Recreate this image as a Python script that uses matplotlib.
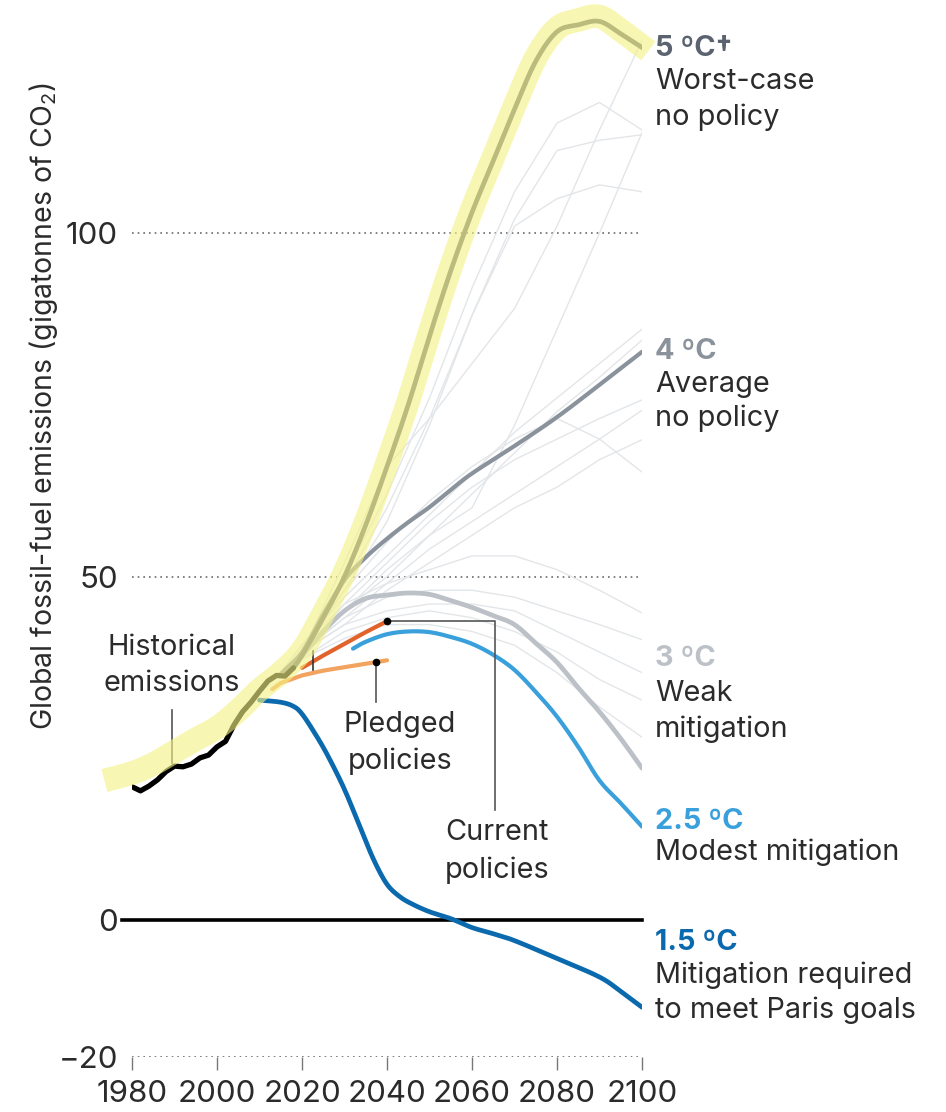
import numpy as np
import matplotlib
matplotlib.use("Agg")
import matplotlib.pyplot as plt

plt.rcParams['font.family'] = ['Inter', 'DejaVu Sans']
plt.rcParams['mathtext.fontset'] = 'custom'
plt.rcParams['mathtext.rm'] = 'Inter'
plt.rcParams['mathtext.default'] = 'regular'

# ---------------------------------------------------------------- data
hist_years = [1980, 1982, 1984, 1986, 1988, 1990, 1992, 1994, 1996, 1998,
              2000, 2002, 2004, 2006, 2008, 2010, 2012, 2014, 2016, 2018]
hist_vals = [19.4, 18.8, 19.5, 20.4, 21.6, 22.4, 22.3, 22.7, 23.6, 24.0,
             25.2, 26.0, 28.4, 30.3, 31.7, 33.3, 34.8, 35.6, 35.5, 36.7]

# Worst-case no policy (5 ºC)
worst_years = [2018, 2020, 2025, 2030, 2035, 2040, 2045, 2050, 2055, 2060,
               2065, 2070, 2075, 2080, 2085, 2090, 2095, 2100]
worst_vals = [36.7, 38.5, 44.0, 50.0, 57.5, 66.0, 75.0, 85.0, 94.5, 103.0,
              110.5, 118.0, 125.0, 129.3, 130.3, 130.8, 129.0, 127.0]

# Average no policy (4 ºC)
avg_years = [2015, 2020, 2025, 2030, 2035, 2040, 2045, 2050, 2055, 2060,
             2070, 2080, 2090, 2100]
avg_vals = [35.8, 39.0, 44.5, 49.5, 52.8, 55.5, 57.9, 60.1, 62.6, 65.0,
            69.0, 73.2, 77.9, 82.7]

# Weak mitigation (3 ºC)
weak_years = [2015, 2020, 2025, 2030, 2035, 2040, 2045, 2050, 2055, 2060,
              2065, 2070, 2075, 2080, 2085, 2090, 2095, 2100]
weak_vals = [35.8, 38.5, 42.0, 45.0, 46.8, 47.3, 47.6, 47.4, 46.5, 45.5,
             44.3, 43.0, 40.3, 37.5, 33.8, 30.3, 26.4, 22.1]

# Modest mitigation (2.5 ºC)
modest_years = [2032, 2035, 2040, 2045, 2050, 2055, 2060, 2065, 2070, 2075,
                2080, 2085, 2090, 2095, 2100]
modest_vals = [39.5, 40.5, 41.6, 42.0, 41.9, 41.2, 40.2, 38.6, 36.4, 33.2,
               29.6, 25.2, 20.3, 17.0, 13.6]

# Mitigation required to meet Paris goals (1.5 ºC)
paris_years = [2010, 2015, 2018, 2020, 2023, 2026, 2030, 2034, 2037, 2040,
               2043, 2046, 2050, 2055, 2060, 2065, 2070, 2080, 2090,
               2095, 2100]
paris_vals = [32.0, 31.7, 31.1, 30.0, 27.2, 24.0, 19.0, 13.0, 8.6, 5.2,
              3.4, 2.3, 1.2, 0.2, -1.1, -2.0, -3.0, -5.6, -8.3,
              -10.4, -12.7]

# Policy pathways
current_years = [2020, 2025, 2030, 2035, 2040]
current_vals = [36.7, 38.5, 40.2, 41.9, 43.5]
pledged_years = [2013, 2015, 2020, 2025, 2030, 2035, 2040]
pledged_vals = [33.6, 34.5, 35.6, 36.3, 36.8, 37.3, 37.8]

# Individual model scenarios (background ensemble)
ens_years = [2015, 2020, 2030, 2040, 2050, 2060, 2070, 2080, 2090, 2100]
ens_runs = [
    [36, 39, 52, 66, 73, 81, 89, 101, 115, 128],
    [36, 39, 50, 62, 76, 92, 106, 116, 119, 115],
    [36, 39, 49, 60, 73, 88, 102, 112, 113.5, 114.3],
    [36, 39, 48, 58, 72, 88, 101, 105, 107, 106],
    [36, 39, 45, 51, 56, 60, 72, 86, 100, 114.6],
    [36, 40, 47, 53, 59, 65, 71, 76, 81, 86],
    [36, 39, 45, 50, 56, 62, 68, 74, 79, 84.4],
    [36, 39, 46, 52, 58, 63, 67, 70, 73, 75.7],
    [36, 39, 44, 49, 54, 58, 62, 66, 70, 74.2],
    [36, 39, 43, 48, 52, 56, 60, 63, 67, 69.9],
    [36, 40, 48, 55, 61, 66, 70, 73, 70, 65.2],
    [36, 40, 46, 49, 51, 53, 53, 51, 48, 44.7],
    [36, 39, 44, 47, 48, 48, 47, 45, 43, 40.8],
    [36, 39, 43, 45, 46, 46, 45, 42, 39, 36],
    [36, 38, 42, 44, 45, 44, 42, 39, 35, 32],
    [36, 38, 41, 43, 43, 42, 40, 36, 31, 26.6],
]

# Highlighter stroke over the historical and worst-case path
marker_years = [1973.5, 1980, 1985, 1990, 1995, 2000, 2005, 2010, 2015, 2020,
                2025, 2030, 2035, 2040, 2045, 2050, 2055, 2060, 2065, 2070,
                2075, 2080, 2085, 2090, 2095, 2101.5]
marker_vals = [20.3, 21.4, 22.7, 24.5, 26.3, 28.0, 30.5, 33.5, 36.0, 39.2,
               44.6, 50.6, 58.0, 66.5, 75.5, 85.5, 95.0, 103.5, 111.0, 118.5,
               125.5, 129.8, 131.0, 131.5, 129.5, 126.5]

x_ticks = [1980, 2000, 2020, 2040, 2060, 2080, 2100]
y_ticks = [-20, 0, 50, 100]
y_tick_labels = ["\u221220", "0", "50", "100"]


def smooth(xs, ys, n=12):
    """Catmull-Rom curve through the given points."""
    x = np.asarray(xs, float)
    y = np.asarray(ys, float)
    px = np.concatenate([[2 * x[0] - x[1]], x, [2 * x[-1] - x[-2]]])
    py = np.concatenate([[2 * y[0] - y[1]], y, [2 * y[-1] - y[-2]]])
    out_x, out_y = [], []
    t = np.linspace(0, 1, n, endpoint=False)
    for i in range(1, len(px) - 2):
        for arr, out in ((px, out_x), (py, out_y)):
            p0, p1, p2, p3 = arr[i - 1], arr[i], arr[i + 1], arr[i + 2]
            out.extend(0.5 * ((2 * p1) + (-p0 + p2) * t
                              + (2 * p0 - 5 * p1 + 4 * p2 - p3) * t ** 2
                              + (-p0 + 3 * p1 - 3 * p2 + p3) * t ** 3))
    out_x.append(x[-1])
    out_y.append(y[-1])
    return np.array(out_x), np.array(out_y)


# ---------------------------------------------------------------- figure
W, H = 946, 1112
fig = plt.figure(figsize=(W / 100, H / 100), dpi=100)
ax = fig.add_axes([132 / W, (H - 1057.4) / H, 510 / W, 1051.1 / H])
ax.set_xlim(1980, 2100)
ax.set_ylim(-20, 133)
for s in ax.spines.values():
    s.set_visible(False)

# reference lines
for yv in (-20, 50, 100):
    ax.axhline(yv, color='#6b6b6b', lw=1.2, ls=(0, (1, 2.4)), zorder=1)
ax.axhline(0, xmin=-0.02, xmax=1, color='black', lw=2.6, zorder=2,
           clip_on=False)

# background ensemble
for run in ens_runs:
    ax.plot(ens_years, run, color='#e3e6e9', lw=1.0, zorder=2)

LW = 3.4
rc = dict(solid_capstyle='round', solid_joinstyle='round')
ax.plot(*smooth(weak_years, weak_vals), color='#bcc1c8', lw=LW, zorder=3, **rc)
ax.plot(*smooth(avg_years, avg_vals), color='#8a929c', lw=3.0, zorder=3, **rc)
ax.plot(*smooth(worst_years, worst_vals), color='#5b6371', lw=LW, zorder=3,
        **rc)
ax.plot(*smooth(modest_years, modest_vals), color='#3aa0dc', lw=3.0,
        zorder=4, **rc)
ax.plot(*smooth(paris_years, paris_vals), color='#0b6aad', lw=LW, zorder=4,
        **rc)
ax.plot(pledged_years, pledged_vals, color='#f2a35f', lw=3.0, zorder=5, **rc)
ax.plot(current_years, current_vals, color='#e2622b', lw=3.0, zorder=5, **rc)
ax.plot(hist_years, hist_vals, color='black', lw=LW + 0.4, zorder=6, **rc)

# highlighter
ax.plot(*smooth(marker_years, marker_vals), color='#f5f285', alpha=0.62,
        lw=17, solid_capstyle='butt', solid_joinstyle='round', zorder=9,
        clip_on=False)

# ---------------------------------------------------------------- annotations
lead = dict(color='#555555', lw=1.2, zorder=7)
body = '#2b2b2b'
FS = 20.8

# Historical emissions
ax.plot([1989.5, 1989.5], [22.9, 30.6], **lead)
ax.text(1989.4, 39.6, "Historical", ha='center', va='center', fontsize=FS,
        color=body)
ax.text(1989.4, 34.4, "emissions", ha='center', va='center', fontsize=FS,
        color=body)

# Pledged policies
p_year = 2037.5
p_val = np.interp(p_year, pledged_years, pledged_vals)
ax.plot([p_year, p_year], [31.7, p_val], **lead)
ax.plot([p_year], [p_val], 'o', color='black', ms=4.5, zorder=8)
ax.text(2043, 28.4, "Pledged", ha='center', va='center', fontsize=FS,
        color=body)
ax.text(2043, 23.1, "policies", ha='center', va='center', fontsize=FS,
        color=body)

# Current policies
c_year = current_years[-1]
c_val = current_vals[-1]
ax.plot([c_year, 2065.4, 2065.4], [c_val, c_val, 16.0], **lead)
ax.plot([c_year], [c_val], 'o', color='black', ms=4.5, zorder=8)
ax.plot([2022.6, 2022.6], [36.4, 39.2], color='#333333', lw=1.2, zorder=7)
ax.text(2065.9, 12.7, "Current", ha='center', va='center', fontsize=FS,
        color=body)
ax.text(2065.9, 7.3, "policies", ha='center', va='center', fontsize=FS,
        color=body)

# Scenario labels on the right
LX = 2103.1
right_labels = [
    ("5 \u00baC\u2020", '#5b6371', [(122.0, "Worst-case"), (116.9, "no policy")], 126.9),
    ("4 \u00baC", '#8a929c', [(77.9, "Average"), (73.1, "no policy")], 82.7),
    ("3 \u00baC", '#bcc1c8', [(33.0, "Weak"), (27.8, "mitigation")], 38.0),
    ("2.5 \u00baC", '#3aa0dc', [(9.8, "Modest mitigation")], 14.3),
    ("1.5 \u00baC", '#0b6aad', [(-8.0, "Mitigation required"),
                               (-13.2, "to meet Paris goals")], -3.3),
]
for head, col, lines, hy in right_labels:
    ax.text(LX, hy, head, ha='left', va='center', fontsize=FS,
            fontweight='bold', color=col, clip_on=False)
    for yv, txt in lines:
        ax.text(LX, yv, txt, ha='left', va='center', fontsize=FS,
                color=body, clip_on=False)

# ---------------------------------------------------------------- axes
ax.set_xticks(x_ticks)
ax.set_xticklabels([str(v) for v in x_ticks])
ax.set_yticks(y_ticks)
ax.set_yticklabels(y_tick_labels)
ax.tick_params(axis='x', direction='out', length=9.5, width=1.0,
               color='#777777', pad=7, labelsize=22.5, labelcolor='#2b2b2b')
ax.tick_params(axis='y', length=0, pad=10, labelsize=22.5,
               labelcolor='#2b2b2b')

fig.text(44 / W, 1 - 406 / H,
         "Global fossil-fuel emissions (gigatonnes of CO$_2$)",
         rotation=90, ha='center', va='center', fontsize=20.5, color=body)

fig.savefig("out.png", dpi=100, facecolor='white')
